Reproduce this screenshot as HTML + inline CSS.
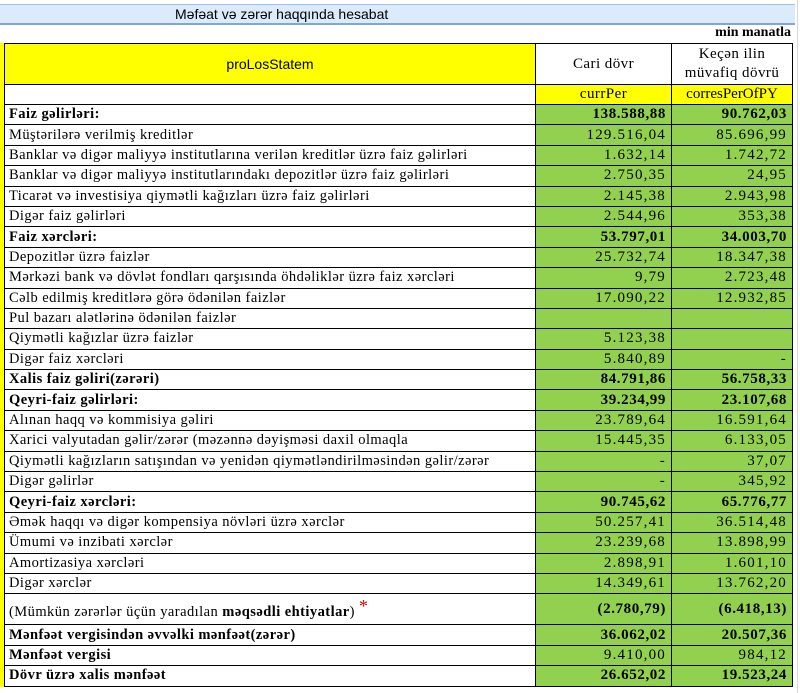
<!DOCTYPE html>
<html><head><meta charset="utf-8"><style>
body{margin:0;width:800px;height:693px;background:#fff;position:relative;overflow:hidden;font-family:"Liberation Serif",serif;}
.title{position:absolute;left:0;top:4px;width:795px;height:18px;background:#dcebfb;border-top:1px solid #9dc3e6;border-bottom:2px solid #7fa8d8;font-family:"Liberation Sans",sans-serif;font-size:14px;line-height:18px;}
.title span{position:absolute;left:175px;}
.unit{position:absolute;right:9px;top:25px;font-size:14px;font-weight:bold;}
.grid{position:absolute;left:797px;top:0;width:1px;height:693px;background:#d8d8d8;}
.strip{position:absolute;left:0;top:43px;width:4px;height:644px;background:#ffff00;}
table{position:absolute;left:4px;top:43px;border-collapse:collapse;table-layout:fixed;font-size:14.5px;letter-spacing:0.45px;}
td{border:1px solid #000;padding:0 4px;height:19.4px;line-height:19px;white-space:nowrap;overflow:hidden;}
td.n{background:#92d050;text-align:right;font-size:15px;letter-spacing:1.2px;padding-right:5px;}
tr.b td{font-weight:bold;}
tr.b td.n{letter-spacing:0.6px;}
.hdr td{height:40px;background:#ffff00;text-align:center;line-height:19px;font-size:15px;}
.hdr td.w{background:#fff;}
</style></head><body>
<div class="title"><span>Məfəat və zərər haqqında hesabat</span></div>
<div class="unit">min manatla</div>
<div class="grid"></div>
<div class="strip"></div>
<table>
<col style="width:531px"><col style="width:136px"><col style="width:121px">
<tr class="hdr"><td style="font-family:'Liberation Sans',sans-serif;font-size:14px;letter-spacing:0">proLosStatem</td><td class="w">Cari dövr</td><td class="w">Keçən ilin<br>müvafiq dövrü</td></tr>
<tr><td style="height:18px"></td><td style="background:#ff0;text-align:center;height:18px;font-size:15px">currPer</td><td style="background:#ff0;text-align:center;height:18px;font-size:15px;letter-spacing:0">corresPerOfPY</td></tr>
<tr class="b"><td>Faiz gəlirləri:</td><td class="n">138.588,88</td><td class="n">90.762,03</td></tr>
<tr><td>Müştərilərə verilmiş kreditlər</td><td class="n">129.516,04</td><td class="n">85.696,99</td></tr>
<tr><td>Banklar və digər maliyyə institutlarına verilən kreditlər üzrə faiz gəlirləri</td><td class="n">1.632,14</td><td class="n">1.742,72</td></tr>
<tr><td>Banklar və digər maliyyə institutlarındakı depozitlər üzrə faiz gəlirləri</td><td class="n">2.750,35</td><td class="n">24,95</td></tr>
<tr><td>Ticarət və investisiya qiymətli kağızları üzrə faiz gəlirləri</td><td class="n">2.145,38</td><td class="n">2.943,98</td></tr>
<tr><td>Digər faiz gəlirləri</td><td class="n">2.544,96</td><td class="n">353,38</td></tr>
<tr class="b"><td>Faiz xərcləri:</td><td class="n">53.797,01</td><td class="n">34.003,70</td></tr>
<tr><td>Depozitlər üzrə faizlər</td><td class="n">25.732,74</td><td class="n">18.347,38</td></tr>
<tr><td>Mərkəzi bank və dövlət fondları qarşısında öhdəliklər üzrə faiz xərcləri</td><td class="n">9,79</td><td class="n">2.723,48</td></tr>
<tr><td>Cəlb edilmiş kreditlərə görə ödənilən faizlər</td><td class="n">17.090,22</td><td class="n">12.932,85</td></tr>
<tr><td>Pul bazarı alətlərinə ödənilən faizlər</td><td class="n"></td><td class="n"></td></tr>
<tr><td>Qiymətli kağızlar üzrə faizlər</td><td class="n">5.123,38</td><td class="n"></td></tr>
<tr><td>Digər faiz xərcləri</td><td class="n">5.840,89</td><td class="n">-</td></tr>
<tr class="b"><td>Xalis faiz gəliri(zərəri)</td><td class="n">84.791,86</td><td class="n">56.758,33</td></tr>
<tr class="b"><td>Qeyri-faiz gəlirləri:</td><td class="n">39.234,99</td><td class="n">23.107,68</td></tr>
<tr><td>Alınan haqq və kommisiya gəliri</td><td class="n">23.789,64</td><td class="n">16.591,64</td></tr>
<tr><td>Xarici valyutadan gəlir/zərər (məzənnə dəyişməsi daxil olmaqla</td><td class="n">15.445,35</td><td class="n">6.133,05</td></tr>
<tr><td>Qiymətli kağızların satışından və yenidən qiymətləndirilməsindən gəlir/zərər</td><td class="n">-</td><td class="n">37,07</td></tr>
<tr><td>Digər gəlirlər</td><td class="n">-</td><td class="n">345,92</td></tr>
<tr class="b"><td>Qeyri-faiz xərcləri:</td><td class="n">90.745,62</td><td class="n">65.776,77</td></tr>
<tr><td>Əmək haqqı və digər kompensiya növləri üzrə xərclər</td><td class="n">50.257,41</td><td class="n">36.514,48</td></tr>
<tr><td>Ümumi və inzibati xərclər</td><td class="n">23.239,68</td><td class="n">13.898,99</td></tr>
<tr><td>Amortizasiya xərcləri</td><td class="n">2.898,91</td><td class="n">1.601,10</td></tr>
<tr><td>Digər xərclər</td><td class="n">14.349,61</td><td class="n">13.762,20</td></tr>
<tr><td style="height:30px">(Mümkün zərərlər üçün yaradılan <b>məqsədli ehtiyatlar</b>) <span style="color:#e00;font-size:18px;vertical-align:4px">*</span></td><td class="n" style="font-weight:bold;letter-spacing:0.6px">(2.780,79)</td><td class="n" style="font-weight:bold;letter-spacing:0.6px">(6.418,13)</td></tr>
<tr class="b"><td>Mənfəət vergisindən əvvəlki mənfəət(zərər)</td><td class="n">36.062,02</td><td class="n">20.507,36</td></tr>
<tr class="b"><td>Mənfəət vergisi</td><td class="n" style="font-weight:normal;letter-spacing:1.2px">9.410,00</td><td class="n" style="font-weight:normal;letter-spacing:1.2px">984,12</td></tr>
<tr class="b"><td>Dövr üzrə xalis mənfəət</td><td class="n">26.652,02</td><td class="n">19.523,24</td></tr>
</table>
</body></html>
